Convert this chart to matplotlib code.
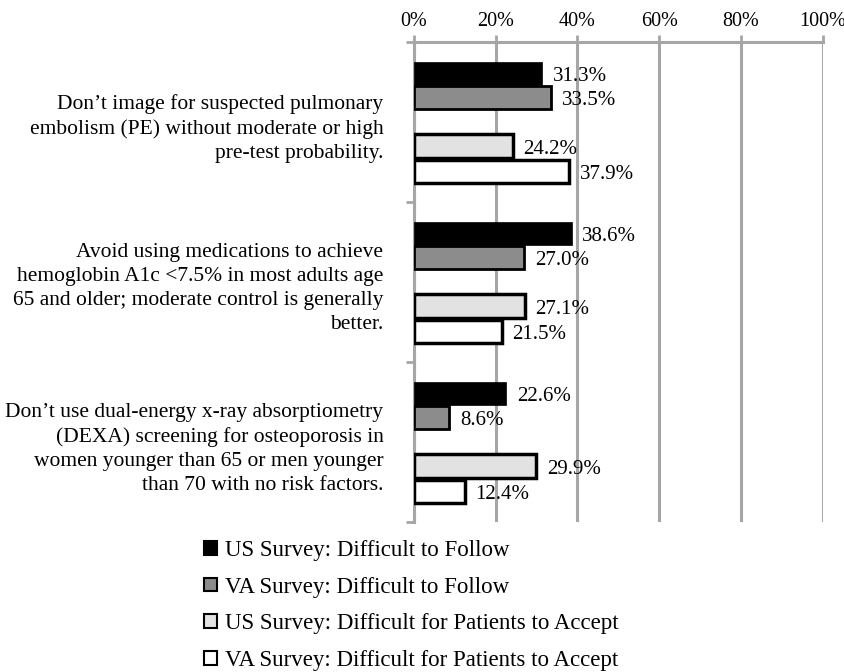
import numpy as np
import matplotlib
matplotlib.use("Agg")
import matplotlib.pyplot as plt
from matplotlib.patches import Patch

plt.rcParams['font.family'] = ['Liberation Serif', 'DejaVu Serif']

# data
groups = [
    "Don\u2019t image for suspected pulmonary\nembolism (PE) without moderate or high\npre-test probability.",
    "Avoid using medications to achieve\nhemoglobin A1c <7.5% in most adults age\n65 and older; moderate control is generally\nbetter.",
    "Don\u2019t use dual-energy x-ray absorptiometry\n(DEXA) screening for osteoporosis in\nwomen younger than 65 or men younger\nthan 70 with no risk factors.",
]
series_names = [
    "US Survey: Difficult to Follow",
    "VA Survey: Difficult to Follow",
    "US Survey: Difficult for Patients to Accept",
    "VA Survey: Difficult for Patients to Accept",
]
us_follow = [31.3, 38.6, 22.6]
va_follow = [33.5, 27.0, 8.6]
us_accept = [24.2, 27.1, 29.9]
va_accept = [37.9, 21.5, 12.4]
xticks = [0, 20, 40, 60, 80, 100]

series = [us_follow, va_follow, us_accept, va_accept]
faces = ['#000000', '#8c8c8c', '#e2e2e2', '#ffffff']
edge_w = [0.5, 2.0, 2.5, 2.5]
offsets = [-0.305, -0.155, 0.15, 0.31]
bar_h = 0.145
grid_c = '#a6a6a6'

fig = plt.figure(figsize=(8.45, 6.72), dpi=100)
ax = fig.add_axes([0.49, 0.2232, 0.4834, 0.7143])

y = np.arange(len(groups))
for vals, fc, ew, off in zip(series, faces, edge_w, offsets):
    ax.barh(y + off, vals, height=bar_h, color=fc, edgecolor='black', linewidth=ew, zorder=3)
    for yi, v in zip(y + off, vals):
        ax.text(v + 2.6, yi + 0.02, "%.1f%%" % v, va='center', ha='left', fontsize=15, zorder=4)

ax.set_xlim(0, 100)
ax.set_ylim(2.5, -0.5)
ax.xaxis.tick_top()
ax.set_xticks(xticks)
ax.set_xticklabels(["%d%%" % t for t in xticks], fontsize=14.5)
ax.tick_params(axis='x', direction='out', length=5, width=2, color=grid_c, pad=3)
ax.grid(axis='x', color=grid_c, linewidth=2.2, zorder=0)

ax.set_yticks(np.arange(-0.5, len(groups), 1.0))
ax.set_yticklabels([])
ax.set_yticks(y + 0.01, minor=True)
ax.set_yticklabels(groups, minor=True, fontsize=15.5, linespacing=1.35)
ax.tick_params(axis='y', which='major', direction='out', length=6, width=2, color=grid_c)
ax.tick_params(axis='y', which='minor', length=0, pad=22)

for s in ['bottom', 'right']:
    ax.spines[s].set_visible(False)
for s in ['top', 'left']:
    ax.spines[s].set_color(grid_c)
    ax.spines[s].set_linewidth(2.2)

handles = [Patch(facecolor=fc, edgecolor='black', linewidth=1.5) for fc in faces]
fig.legend(handles, series_names, loc='upper left', bbox_to_anchor=(0.228, 0.2134),
           frameon=False, fontsize=16.5, handlelength=0.55, handleheight=0.55,
           handletextpad=0.35, labelspacing=0.68, borderpad=0)

fig.savefig("out.png", dpi=100)
